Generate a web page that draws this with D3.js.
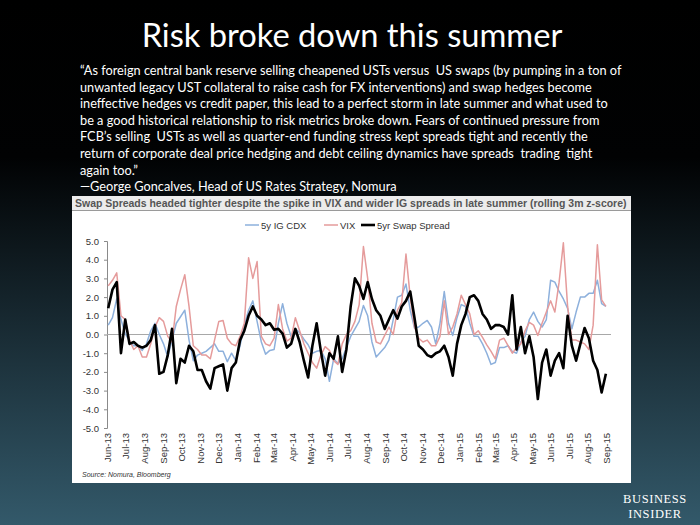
<!DOCTYPE html>
<html><head><meta charset="utf-8">
<script src="https://cdn.jsdelivr.net/npm/d3@7"></script>
<style>body{margin:0;background:#000;overflow:hidden}</style>
</head><body>
<svg id="c" width="700" height="525"></svg>
<script>
// ---- data (weekly, rolling 3m z-scores) ----
const swap5y = [1.4,2.4,2.8,-1.0,0.8,-0.5,-0.4,-0.6,-0.7,-0.6,
 -0.3,0.5,-2.1,-2.0,-1.1,0.3,-2.6,-1.3,-1.5,-0.6,
 -0.9,-1.9,-1.9,-2.5,-2.9,-1.8,-1.7,-1.6,-3.0,-1.8,
 -1.5,-0.3,0.2,1.0,1.5,1.0,0.8,0.5,0.6,0.25,
 0.3,0.05,-0.7,-0.5,0.3,-0.4,-1.4,-2.3,-0.6,0.6,
 -0.9,-2.2,-1.0,-1.3,-0.1,-2.0,-0.8,1.5,3.0,2.6,
 1.9,2.8,1.9,1.3,1.0,0.3,0.8,1.3,0.85,1.5,
 1.8,2.3,0.9,-0.6,-0.8,-1.1,-1.2,-1.0,-0.9,-0.6,
 -1.2,-2.2,-0.5,0.5,1.1,2.0,2.1,1.8,1.1,0.8,
 0.3,0.5,0.5,0.4,0.0,2.1,-0.8,0.4,-1.0,-0.1,
 -1.2,-3.45,-1.5,-0.8,-2.2,-1.4,-1.0,-1.8,1.0,-0.6,
 -1.4,-0.5,0.35,-0.2,-1.4,-1.9,-3.1,-2.1];
const vix = [2.6,2.9,3.3,1.0,0.8,-0.3,-0.8,-0.6,-1.2,-1.2,
 -0.5,0.4,0.9,0.7,-0.1,-0.4,1.5,2.4,3.2,1.5,
 -0.6,-0.8,-1.1,-1.1,-1.3,-0.3,0.7,0.75,-0.2,-0.5,
 -0.6,-0.1,0.6,4.1,3.0,3.9,-0.1,-0.5,-0.6,-0.2,
 1.6,0.3,-0.35,-0.2,0.9,0.2,-0.5,-1.0,-1.5,-1.8,
 -1.1,-0.65,-0.85,-1.4,-1.6,-0.5,0.0,0.2,0.7,1.6,
 4.7,3.0,0.6,-0.4,-0.5,-0.05,0.4,0.0,1.3,1.7,
 4.3,2.0,0.4,-0.2,-0.4,-0.3,-0.6,-0.6,-0.1,1.8,
 0.0,0.4,1.1,2.1,1.6,1.1,0.0,0.2,-0.15,-0.55,
 -0.9,-1.3,-0.3,-0.2,-0.6,-1.0,-0.7,-0.5,0.2,0.65,
 0.5,-0.05,0.6,1.2,1.8,1.2,2.8,4.9,1.5,-0.3,
 -0.3,-0.4,-0.5,-0.8,0.5,4.8,1.85,1.5];
const cdx5y = [0.5,0.9,1.9,0.8,0.05,-0.35,-0.6,-0.6,-0.85,-0.5,
 0.2,0.6,0.0,-0.5,-1.2,-0.3,0.6,0.95,1.3,-0.3,
 -1.4,-1.1,-1.0,-0.9,-0.7,-0.5,-0.9,-0.9,-1.45,-1.0,
 -1.4,-0.6,0.5,1.3,1.8,0.7,-0.4,-1.05,-0.85,-0.8,
 0.6,1.65,0.6,-0.1,0.3,0.1,-0.25,-0.55,-1.0,-0.9,
 -0.85,-1.3,-2.5,-1.3,-1.55,-1.3,-0.7,-0.1,0.3,0.7,
 1.55,1.0,-0.4,-1.2,-0.95,-0.7,-0.3,0.8,2.0,2.1,
 2.7,1.3,0.35,0.4,0.6,0.75,0.4,-0.5,0.6,2.3,
 0.6,-0.05,0.9,1.6,1.5,0.6,-0.1,-0.1,-0.5,-1.0,
 -1.6,-1.5,-0.7,-0.7,-0.6,-0.9,-1.0,-0.4,-0.1,0.8,
 1.2,0.7,0.4,0.8,2.9,2.8,2.3,1.9,1.4,0.3,
 1.2,2.0,2.0,2.2,2.2,2.9,1.65,1.5];
const weeks = d3.timeMonday.range(new Date(2013,5,3), new Date(2015,8,1));
const monthTicks = d3.timeMonth.range(new Date(2013,5,1), new Date(2015,8,2));
const yTicks = [-5,-4,-3,-2,-1,0,1,2,3,4,5];
const seriesNames = ["5y IG CDX","VIX","5yr Swap Spread"];
const seriesColors = ["#8db0dc","#e59b9b","#000000"];
const slideTitle = "Risk broke down this summer";
const quoteLines = [
 "\u201CAs foreign central bank reserve selling cheapened USTs versus  US swaps (by pumping in a ton of",
 "unwanted legacy UST collateral to raise cash for FX interventions) and swap hedges become",
 "ineffective hedges vs credit paper, this lead to a perfect storm in late summer and what used to",
 "be a good historical relationship to risk metrics broke down. Fears of continued pressure from",
 "FCB\u2019s selling  USTs as well as quarter-end funding stress kept spreads tight and recently the",
 "return of corporate deal price hedging and debt ceiling dynamics have spreads  trading  tight",
 "again too.\u201D"];
const attribution = "\u2014George Goncalves, Head of US Rates Strategy, Nomura";
const chartTitle = "Swap Spreads headed tighter despite the spike in VIX and wider IG spreads in late summer (rolling 3m z-score)";
const sourceNote = "Source: Nomura, Bloomberg";

// ---- drawing ----
const svg = d3.select("#c");
const defs = svg.append("defs");
const g = defs.append("linearGradient").attr("id","bg").attr("x1",0).attr("y1",0).attr("x2",0).attr("y2",1);
g.append("stop").attr("offset","0").attr("stop-color","#000000");
g.append("stop").attr("offset","0.3").attr("stop-color","#010203");
g.append("stop").attr("offset","1").attr("stop-color","#33596a");
svg.append("rect").attr("width",700).attr("height",525).attr("fill","url(#bg)");

// slide title
const t = svg.append("text").attr("x",352).attr("y",47).attr("text-anchor","middle")
  .attr("fill","#fff").style("font-family","Lato, 'Open Sans', sans-serif").style("font-size","34px").text(slideTitle);
let w = t.node().getComputedTextLength();
t.style("font-size",(34*421/w)+"px");

// quote
const qg = svg.append("g").style("font-family","Lato, 'Open Sans', sans-serif").attr("fill","#fff");
const q0 = qg.append("text").attr("x",80).attr("y",75).attr("xml:space","preserve").style("font-size","14px").text(quoteLines[0]);
const qw = q0.node().getComputedTextLength();
const qfs = 14*542/qw;
q0.remove();
quoteLines.concat([attribution]).forEach((s,i)=>{
  qg.append("text").attr("x",80).attr("y",75+i*16.6).attr("xml:space","preserve").style("font-size",qfs+"px").text(s);
});

// chart panel
const P = {l:72,t:196,r:631,b:483};
svg.append("rect").attr("x",P.l).attr("y",P.t).attr("width",P.r-P.l).attr("height",P.b-P.t).attr("fill","#fff");
svg.append("rect").attr("x",P.l).attr("y",P.t).attr("width",P.r-P.l).attr("height",14).attr("fill","#ececec");
svg.append("line").attr("x1",P.l).attr("x2",P.r).attr("y1",210.5).attr("y2",210.5).attr("stroke","#9a9a9a");
const ct = svg.append("text").attr("x",75).attr("y",207).attr("fill","#555")
  .style("font-family","'Liberation Sans', Arial, sans-serif").style("font-weight","bold").style("font-size","10px").text(chartTitle);
w = ct.node().getComputedTextLength();
ct.style("font-size",(10*552/w)+"px");

const x = d3.scaleTime().domain([new Date(2013,5,1), new Date(2015,8,1)]).range([107,606.5]);
const y = d3.scaleLinear().domain([-5,5]).range([428,241]);

// y axis
const ya = svg.append("g").attr("transform","translate(107,0)")
  .call(d3.axisLeft(y).tickValues(yTicks).tickFormat(d=>d.toFixed(1)).tickSize(3).tickPadding(5));
ya.select(".domain").attr("stroke","#8a8a8a");
ya.selectAll(".tick line").attr("stroke","#8a8a8a");
ya.selectAll("text").attr("fill","#333").style("font-family","'Liberation Sans', Arial, sans-serif").style("font-size","9.5px");

// zero line
svg.append("line").attr("x1",107).attr("x2",611).attr("y1",y(0)).attr("y2",y(0)).attr("stroke","#a8a8a8").attr("stroke-width",1);

// x axis labels
const xa = svg.append("g").attr("transform","translate(0,431)")
  .call(d3.axisBottom(x).tickValues(monthTicks).tickFormat(d3.timeFormat("%b-%y")).tickSize(0));
xa.select(".domain").remove();
xa.selectAll("text").attr("transform","rotate(-90)").attr("text-anchor","end")
  .attr("x",-2).attr("y",0).attr("dy","0.35em").attr("fill","#333")
  .style("font-family","'Liberation Sans', Arial, sans-serif").style("font-size","9.5px");

// lines
const all = [cdx5y, vix, swap5y];
const widths = [1.5,1.5,2.6];
all.forEach((vals,k)=>{
  const line = d3.line().x((d,i)=>x(weeks[i])).y(d=>y(d));
  svg.append("path").datum(vals).attr("d",line).attr("fill","none")
    .attr("stroke",seriesColors[k]).attr("stroke-width",widths[k]).attr("stroke-linejoin","round");
});

// legend
const legX = [245,324,361];
const lg = svg.append("g").style("font-family","'Liberation Sans', Arial, sans-serif").style("font-size","9.5px");
seriesNames.forEach((n,k)=>{
  lg.append("line").attr("x1",legX[k]).attr("x2",legX[k]+14).attr("y1",225).attr("y2",225)
    .attr("stroke",seriesColors[k]).attr("stroke-width",widths[k]);
  lg.append("text").attr("x",legX[k]+16).attr("y",228.5).attr("fill","#333").text(n);
});

// source
svg.append("text").attr("x",82).attr("y",477).attr("fill","#333")
  .style("font-family","'Liberation Sans', Arial, sans-serif").style("font-style","italic").style("font-size","7px").text(sourceNote);

// logo
const lgo = svg.append("g").attr("fill","#fff").style("font-family","'Liberation Serif', 'DejaVu Serif', serif").style("font-size","12.5px").style("letter-spacing","0.6px");
lgo.append("text").attr("x",655).attr("y",503).attr("text-anchor","middle").text("BUSINESS");
lgo.append("text").attr("x",655).attr("y",518).attr("text-anchor","middle").text("INSIDER");
</script>
</body></html>
